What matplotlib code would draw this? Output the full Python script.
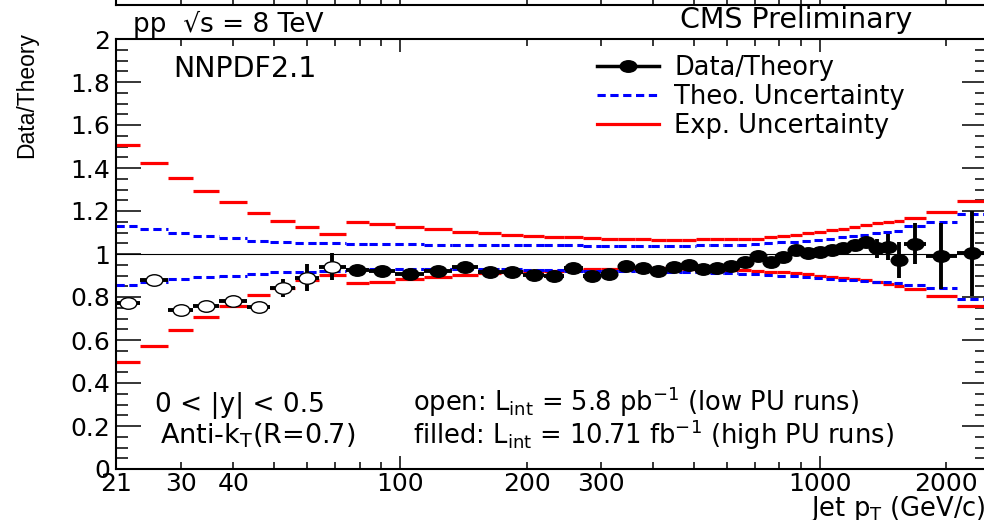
import matplotlib.pyplot as plt
import numpy as np
from matplotlib.path import Path
from matplotlib.transforms import Affine2D
from matplotlib.lines import Line2D
from matplotlib.ticker import FixedLocator, MultipleLocator, FuncFormatter, NullFormatter

# jet pT bin edges (GeV)
edges = [21, 24, 28, 32, 37, 43, 49, 56, 64, 74, 84, 97, 114, 133, 153, 174, 196,
         220, 245, 272, 300, 330, 362, 395, 430, 468, 507, 548, 592, 638, 686, 737,
         790, 846, 905, 967, 1032, 1101, 1172, 1248, 1327, 1410, 1497, 1588, 1784,
         2116, 2500]

# open points: low pile-up runs
low_pu_ratio = [0.771, 0.879, 0.740, 0.758, 0.781, 0.752, 0.842, 0.890, 0.941]
low_pu_err = [0.005, 0.005, 0.005, 0.005, 0.005, 0.005, 0.043, 0.062, 0.064]

# filled points: high pile-up runs
high_pu_ratio = [0.926, 0.921, 0.908, 0.921, 0.938, 0.918, 0.918, 0.902, 0.898, 0.933,
                 0.898, 0.906, 0.944, 0.937, 0.921, 0.941, 0.949, 0.929, 0.937, 0.942,
                 0.962, 0.989, 0.965, 0.985, 1.017, 1.005, 1.011, 1.019, 1.026, 1.042,
                 1.057, 1.026, 1.034, 0.972, 1.047, 0.991, 1.003]
high_pu_err = [0.003] * 20 + [0.005, 0.005, 0.006, 0.006, 0.007, 0.008, 0.009, 0.010,
                              0.012, 0.015, 0.020, 0.045, 0.060, 0.085, 0.095, 0.155, 0.198]

exp_up = [1.507, 1.425, 1.352, 1.292, 1.240, 1.192, 1.153, 1.126, 1.094,
          1.150, 1.140, 1.127, 1.115, 1.104, 1.096, 1.090, 1.085, 1.080, 1.078,
          1.075, 1.072, 1.070, 1.068, 1.067, 1.067, 1.067, 1.068, 1.068, 1.069,
          1.070, 1.072, 1.078, 1.085, 1.090, 1.096, 1.102, 1.110, 1.118, 1.126,
          1.135, 1.143, 1.148, 1.152, 1.166, 1.197, 1.247]
exp_down = [0.499, 0.572, 0.647, 0.705, 0.760, 0.809, 0.840, 0.879, 0.902,
            0.864, 0.871, 0.882, 0.894, 0.904, 0.910, 0.915, 0.920, 0.923, 0.926,
            0.928, 0.930, 0.931, 0.932, 0.933, 0.933, 0.932, 0.930, 0.929, 0.927,
            0.924, 0.921, 0.918, 0.914, 0.910, 0.905, 0.900, 0.895, 0.890, 0.884,
            0.878, 0.870, 0.860, 0.851, 0.836, 0.805, 0.760]
theo_up = [1.130, 1.115, 1.096, 1.085, 1.073, 1.062, 1.056, 1.053, 1.050,
           1.046, 1.045, 1.045, 1.044, 1.044, 1.044, 1.044, 1.043, 1.041, 1.040,
           1.039, 1.039, 1.038, 1.038, 1.038, 1.038, 1.039, 1.040, 1.041, 1.042,
           1.044, 1.046, 1.050, 1.054, 1.058, 1.062, 1.066, 1.072, 1.078, 1.085,
           1.090, 1.096, 1.102, 1.108, 1.130, 1.150, 1.185]
theo_down = [0.856, 0.870, 0.884, 0.894, 0.900, 0.908, 0.914, 0.918, 0.922,
             0.928, 0.932, 0.932, 0.932, 0.932, 0.930, 0.928, 0.926, 0.924, 0.923,
             0.922, 0.921, 0.920, 0.920, 0.919, 0.918, 0.917, 0.915, 0.913, 0.911,
             0.909, 0.906, 0.903, 0.900, 0.896, 0.892, 0.888, 0.884, 0.880, 0.877,
             0.875, 0.872, 0.868, 0.865, 0.856, 0.840, 0.792]

xtick_labeled = [21, 30, 40, 100, 200, 300, 1000, 2000]
xtick_minor = [21, 30, 40, 50, 60, 70, 80, 90, 200, 300, 400, 500, 600, 700, 800, 900, 2000]

W, H = 984, 520


def px(x, y):
    return x / W, 1 - y / H


edges = np.array(edges, dtype=float)
lo, hi = edges[:-1], edges[1:]
centers = np.sqrt(lo * hi)
n_low = len(low_pu_ratio)

# markers in the original are stretched sideways
ellipse = Path.unit_circle().transformed(Affine2D().scale(1.45, 1.0))
dash = (0, (2.7, 1.5))

fig = plt.figure(figsize=(9.84, 5.2), dpi=100)
ax = fig.add_axes([116 / W, 51 / H, 871 / W, 430 / H])
ax.set_xscale('log')
ax.set_xlim(21, 2500)
ax.set_ylim(0, 2)

ax.axhline(1, color='black', lw=0.8, zorder=1)
ax.hlines(exp_up, lo, hi, color='red', lw=2.3, zorder=2)
ax.hlines(exp_down, lo, hi, color='red', lw=2.3, zorder=2)
ax.hlines(theo_up, lo, hi, color='blue', lw=2.2, linestyles=[dash], zorder=2)
ax.hlines(theo_down, lo, hi, color='blue', lw=2.2, linestyles=[dash], zorder=2)

c_lo = centers[:n_low]
ax.errorbar(c_lo, low_pu_ratio, yerr=low_pu_err,
            xerr=[c_lo - lo[:n_low], hi[:n_low] - c_lo],
            ls='none', marker=ellipse, ms=12, mfc='white', mec='black', mew=1,
            ecolor='black', elinewidth=2.8, capsize=0, zorder=3)
c_hi = centers[n_low:]
ax.errorbar(c_hi, high_pu_ratio, yerr=high_pu_err,
            xerr=[c_hi - lo[n_low:], hi[n_low:] - c_hi],
            ls='none', marker=ellipse, ms=12, mfc='black', mec='black',
            ecolor='black', elinewidth=2.8, capsize=0, zorder=3)

# axes styling (ROOT look)
for s in ax.spines.values():
    s.set_linewidth(1.5)
ax.yaxis.set_major_locator(MultipleLocator(0.2))
ax.yaxis.set_minor_locator(MultipleLocator(0.05))
ax.yaxis.set_major_formatter(FuncFormatter(lambda v, _: f'{v:g}'))
ax.xaxis.set_major_locator(FixedLocator([100, 1000]))
ax.xaxis.set_minor_locator(FixedLocator(xtick_minor))
ax.xaxis.set_major_formatter(FuncFormatter(lambda v, _: f'{v:g}'))
ax.xaxis.set_minor_formatter(FuncFormatter(
    lambda v, _: f'{v:g}' if round(v) in xtick_labeled else ''))
ax.tick_params(axis='both', which='both', direction='in', top=True, right=True,
               width=1.1, labelsize=18, colors='black')
ax.tick_params(axis='y', which='major', length=18, pad=4)
ax.tick_params(axis='y', which='minor', length=8.6)
ax.tick_params(axis='x', which='major', length=9.4, pad=2)
ax.tick_params(axis='x', which='minor', length=5, pad=2)

# clipped bottom edge of the upper panel
ax_top = fig.add_axes([116 / W, 1 - 5 / H, 871 / W, 0.3])
ax_top.set_xscale('log')
ax_top.set_xlim(21, 2500)
ax_top.set_yscale('log')
ax_top.set_ylim(1, 1e6)
ax_top.set_yticks([1])
ax_top.set_yticklabels(['$10^{0}$'], va='bottom')
ax_top.xaxis.set_major_locator(FixedLocator([100, 1000]))
ax_top.xaxis.set_minor_locator(FixedLocator(xtick_minor))
ax_top.xaxis.set_major_formatter(NullFormatter())
ax_top.xaxis.set_minor_formatter(NullFormatter())
for s in ax_top.spines.values():
    s.set_linewidth(1.5)
ax_top.tick_params(axis='both', which='both', direction='in', width=1.1, labelsize=18)
ax_top.tick_params(axis='x', which='major', length=9.4)
ax_top.tick_params(axis='x', which='minor', length=5)
ax_top.tick_params(axis='y', which='both', length=0, pad=14)

# legend
handles = [Line2D([], [], color='black', lw=2.5, marker=ellipse, ms=12),
           Line2D([], [], color='blue', lw=2.2, ls=dash),
           Line2D([], [], color='red', lw=2.3)]
labels = ['Data/Theory', 'Theo. Uncertainty', 'Exp. Uncertainty']
ax.legend(handles, labels, loc='upper left', bbox_to_anchor=px(597, 55),
          bbox_transform=fig.transFigure, frameon=False, fontsize=18.5,
          handlelength=2.4, handletextpad=0.6, labelspacing=0.12,
          borderpad=0, borderaxespad=0, numpoints=1)

# labels
fig.text(*px(133, 32), 'pp  \u221as = 8 TeV', fontsize=19, ha='left', va='baseline')
fig.text(*px(912, 28), 'CMS Preliminary', fontsize=20.5, ha='right', va='baseline')
fig.text(*px(173, 77), 'NNPDF2.1', fontsize=20.5, ha='left', va='baseline')
fig.text(*px(155, 412), '0 < |y| < 0.5', fontsize=19, ha='left', va='baseline')
fig.text(*px(160, 443), r'Anti-k$_\mathrm{T}$(R=0.7)', fontsize=19.5, ha='left', va='baseline')
fig.text(*px(413, 411), r'open: L$_\mathrm{int}$ = 5.8 pb$^{-1}$ (low PU runs)',
         fontsize=18.5, ha='left', va='baseline')
fig.text(*px(413, 444), r'filled: L$_\mathrm{int}$ = 10.71 fb$^{-1}$ (high PU runs)',
         fontsize=18.5, ha='left', va='baseline')
fig.text(*px(986, 516), r'Jet p$_\mathrm{T}$ (GeV/c)', fontsize=18.5, ha='right', va='baseline')
fig.text(*px(27, 95), 'Data/Theory', fontsize=16.5, family='Liberation Sans',
         rotation=90, ha='center', va='center')

fig.savefig('out.png', dpi=100)
